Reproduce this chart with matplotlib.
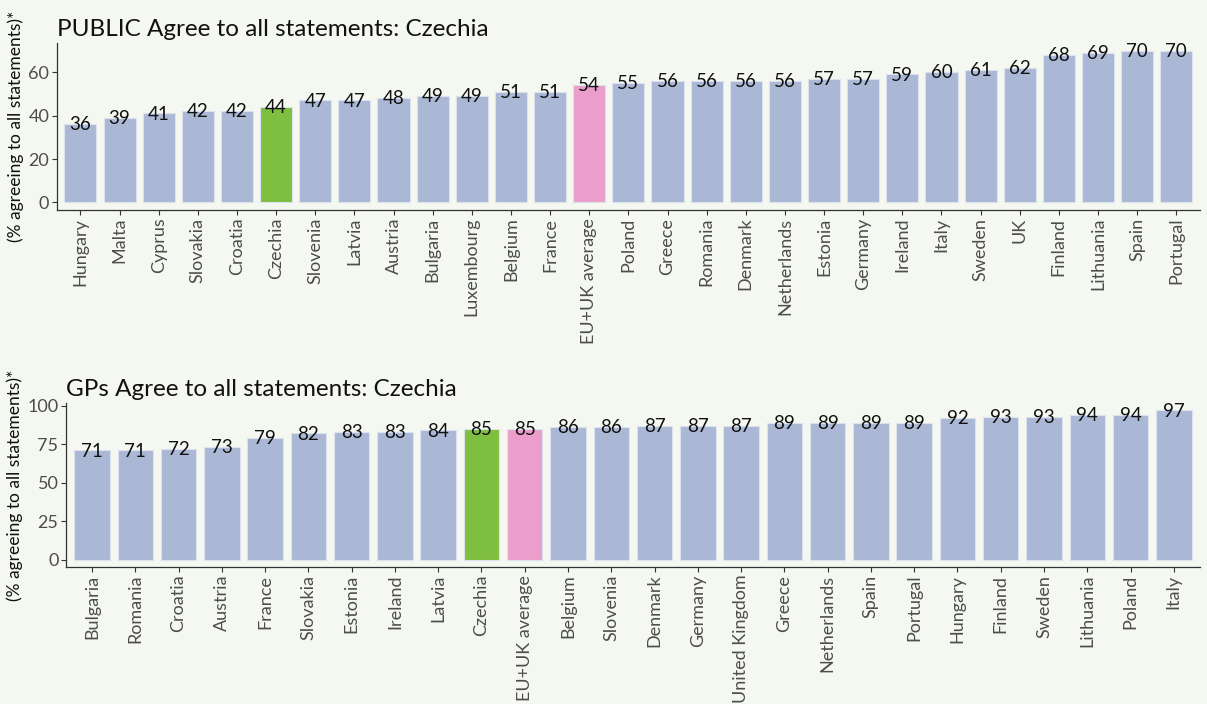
import matplotlib
matplotlib.use("Agg")
import matplotlib.pyplot as plt

pub_countries = ["Hungary", "Malta", "Cyprus", "Slovakia", "Croatia", "Czechia", "Slovenia",
                 "Latvia", "Austria", "Bulgaria", "Luxembourg", "Belgium", "France",
                 "EU+UK average", "Poland", "Greece", "Romania", "Denmark", "Netherlands",
                 "Estonia", "Germany", "Ireland", "Italy", "Sweden", "UK", "Finland",
                 "Lithuania", "Spain", "Portugal"]
pub_values = [36, 39, 41, 42, 42, 44, 47, 47, 48, 49, 49, 51, 51, 54, 55, 56, 56, 56, 56,
              57, 57, 59, 60, 61, 62, 68, 69, 70, 70]

gp_countries = ["Bulgaria", "Romania", "Croatia", "Austria", "France", "Slovakia", "Estonia",
                "Ireland", "Latvia", "Czechia", "EU+UK average", "Belgium", "Slovenia",
                "Denmark", "Germany", "United Kingdom", "Greece", "Netherlands", "Spain",
                "Portugal", "Hungary", "Finland", "Sweden", "Lithuania", "Poland", "Italy"]
gp_values = [71, 71, 72, 73, 79, 82, 83, 83, 84, 85, 85, 86, 86, 87, 87, 87, 89, 89, 89, 89,
             92, 93, 93, 94, 94, 97]

BG = "#F4F8F0"
BAR = "#AAB8D6"
GREEN = "#7FBF3F"
PINK = "#EB9ECB"

plt.rcParams['font.family'] = ['Lato', 'DejaVu Sans']

fig = plt.figure(figsize=(12.07, 7.04), dpi=100, facecolor=BG)


def color_for(c):
    if c == "Czechia":
        return GREEN
    if c == "EU+UK average":
        return PINK
    return BAR


def panel(rect, cats, vals, title, yticks):
    ax = fig.add_axes(rect)
    ax.set_facecolor(BG)
    x = list(range(len(cats)))
    cols = [color_for(c) for c in cats]
    ax.bar(x, vals, width=0.82, color=cols, edgecolor="#DDE3EE", linewidth=0.8, zorder=2)
    for xi, v in zip(x, vals):
        ax.text(xi, v - 0.3 * (max(vals) / 70), f"{v}", ha="center", va="center",
                fontsize=13.5, color="#111111", zorder=3)
    n = len(cats)
    ax.set_xlim(-0.6, n - 0.4)
    top = max(vals)
    ax.set_ylim(-top * 0.05, top * 1.05)
    ax.set_xticks(x)
    ax.set_xticklabels(cats, rotation=90, fontsize=13, color="#4D4D4D")
    ax.set_yticks(yticks)
    ax.set_yticklabels([str(t) for t in yticks], fontsize=13, color="#4D4D4D")
    for s in ["top", "right"]:
        ax.spines[s].set_visible(False)
    for s in ["left", "bottom"]:
        ax.spines[s].set_color("#333333")
        ax.spines[s].set_linewidth(0.9)
    ax.tick_params(axis="both", length=3.5, width=0.8, color="#333333", pad=2)
    ax.set_ylabel("(% agreeing to all statements)*", fontsize=12.5, color="#111111", labelpad=3)
    ax.set_title(title, loc="left", fontsize=17.5, color="#111111", pad=5)
    return ax


ax1 = panel([0.0472, 0.7017, 0.9468, 0.2373], pub_countries, pub_values,
            "PUBLIC Agree to all statements: Czechia", [0, 20, 40, 60])
ax2 = panel([0.0547, 0.1946, 0.9393, 0.2330], gp_countries, gp_values,
            "GPs Agree to all statements: Czechia", [0, 25, 50, 75, 100])

fig.savefig("out.png", dpi=100, facecolor=BG)
